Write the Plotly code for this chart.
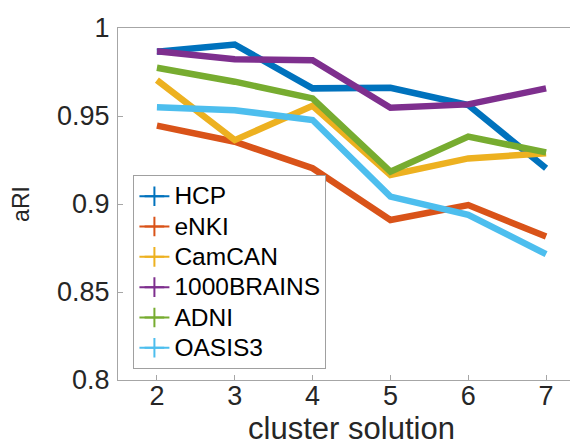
import plotly.graph_objects as go

clusters = [2, 3, 4, 5, 6, 7]
hcp = [0.9865, 0.9906, 0.9657, 0.9660, 0.9562, 0.9203]
enki = [0.9445, 0.9354, 0.9203, 0.8909, 0.8994, 0.8815]
camcan = [0.9704, 0.9363, 0.9558, 0.9165, 0.9259, 0.9288]
brains1000 = [0.9868, 0.9823, 0.9817, 0.9547, 0.9566, 0.9657]
adni = [0.9774, 0.9695, 0.9600, 0.9184, 0.9383, 0.9293]
oasis3 = [0.9550, 0.9533, 0.9477, 0.9042, 0.8938, 0.8715]

names = ["HCP", "eNKI", "CamCAN", "1000BRAINS", "ADNI", "OASIS3"]
series = [hcp, enki, camcan, brains1000, adni, oasis3]
colors = ["#0072BD", "#D95319", "#EDB120", "#7E2F8E", "#77AC30", "#4DBEEE"]

y_ticks = [0.8, 0.85, 0.9, 0.95, 1]
y_ticklabels = ["0.8", "0.85", "0.9", "0.95", "1"]

fig = go.Figure()
for name, vals, col in zip(names, series, colors):
    fig.add_trace(go.Scatter(
        x=clusters, y=vals, mode="lines", name=name,
        line=dict(color=col, width=6.5), showlegend=False,
    ))
for name, col in zip(names, colors):
    fig.add_trace(go.Scatter(
        x=[None], y=[None], mode="lines+markers",
        name='<span style="font-size:24.5px">' + name + '</span>',
        line=dict(color=col, width=2),
        marker=dict(symbol="cross-thin", size=14, line=dict(color=col, width=2)),
    ))

font_family = "Liberation Sans, Arial, Helvetica, sans-serif"
axis_common = dict(
    showline=True, linecolor="#a6a6a6", linewidth=1, mirror=True,
    ticks="inside", ticklen=5, tickcolor="#a6a6a6", tickwidth=1,
    showgrid=False, zeroline=False,
    tickfont=dict(size=27, color="#262626", family=font_family),
)
fig.update_xaxes(
    range=[1.5, 7.5], tickvals=clusters,
    ticklabelstandoff=-8,
    title=dict(text="cluster solution", font=dict(size=31, color="#262626", family=font_family), standoff=0),
    **axis_common,
)
fig.update_yaxes(
    range=[0.8, 1.0], tickvals=y_ticks, ticktext=y_ticklabels,
    ticklabelstandoff=2,
    title=dict(text="aRI", font=dict(size=23, color="#262626", family=font_family), standoff=25),
    **axis_common,
)
fig.update_layout(
    width=578, height=445,
    margin=dict(l=110, r=1, t=19.5, b=73),
    plot_bgcolor="white", paper_bgcolor="white",
    font=dict(family=font_family, color="#262626"),
    legend=dict(
        x=0.033, y=0.031, xanchor="left", yanchor="bottom",
        bordercolor="#a0a0a0", borderwidth=1, bgcolor="white",
        font=dict(size=21, color="#000000", family=font_family),
        itemwidth=30, tracegroupgap=0,
    ),
)
fig.write_html("out.html")
